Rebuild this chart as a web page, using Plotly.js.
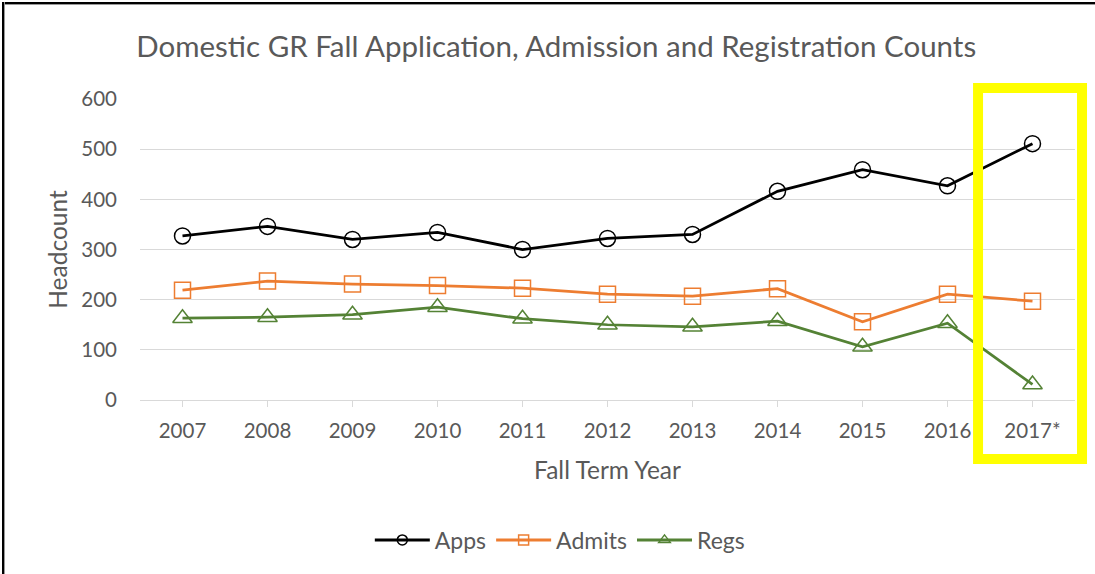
<!DOCTYPE html>
<html>
<head>
<meta charset="utf-8">
<script src="https://cdn.plot.ly/plotly-3.0.1.min.js"></script>
<style>
  html, body { margin: 0; padding: 0; background: #fff; }
  #chart { position: absolute; left: 0; top: 0; width: 1095px; height: 574px; }
  #bt { position: absolute; left: 2px; top: 2px; width: 1093px; height: 2px; background: #000; border-bottom: 1px solid #999; }
  #bl { position: absolute; left: 2px; top: 2px; width: 2px; height: 572px; background: #000; border-right: 1px solid #999; }
</style>
</head>
<body>
<div id="chart"></div>
<div id="bt"></div>
<div id="bl"></div>
<script>
const years = ["2007","2008","2009","2010","2011","2012","2013","2014","2015","2016","2017*"];
const apps   = [327, 346, 320, 334, 300, 322, 330, 416, 459, 427, 511];
const admits = [219, 237, 231, 228, 223, 211, 207, 222, 156, 211, 197];
const regs   = [163, 165, 170, 185, 162, 150, 146, 157, 106, 153, 31];

const seriesNames = ["Apps", "Admits", "Regs"];
const seriesData = [apps, admits, regs];
const colors = ["#000000", "#ED7D31", "#548235"];
const symbols = ["circle-open", "square-open", "triangle-up-open"];
const markerSizes = [16, 16, 17];

const FONT = "Lato, 'Open Sans', sans-serif";
const GREY = "#595959";

const traces = [];
seriesNames.forEach((nm, i) => {
  traces.push({ name: nm, x: years, y: seriesData[i], type: "scatter", mode: "lines+markers",
    showlegend: false, legendgroup: nm,
    line: { color: colors[i], width: 2.75 },
    marker: { symbol: symbols[i], size: markerSizes[i], color: colors[i], line: { width: 1.5, color: colors[i] } } });
});
// legend-only entries (smaller markers, as in the reference legend)
seriesNames.forEach((nm, i) => {
  traces.push({ name: nm, x: [null], y: [null], type: "scatter", mode: "lines+markers",
    showlegend: true, legendgroup: nm, hoverinfo: "skip",
    line: { color: colors[i], width: 3 },
    marker: { symbol: symbols[i], size: 10, color: colors[i], line: { width: 1.5, color: colors[i] } } });
});

const layout = {
  width: 1095, height: 574,
  margin: { l: 140, r: 20, t: 99, b: 174 },
  paper_bgcolor: "#ffffff", plot_bgcolor: "#ffffff",
  font: { family: FONT, color: GREY, size: 20 },
  title: { text: "Domestic GR Fall Application, Admission and Registration Counts",
    x: 0.508, xanchor: "center", y: 0.918, yanchor: "middle", yref: "container",
    font: { family: FONT, size: 29.5, color: GREY } },
  xaxis: {
    type: "category", range: [-0.5, 10.5],
    showgrid: false, zeroline: false,
    showline: true, linecolor: "#d9d9d9", linewidth: 1,
    ticks: "outside", ticklen: 6, tickcolor: "#d9d9d9", tickwidth: 1,
    ticklabelstandoff: 6,
    tickfont: { family: FONT, size: 20.5, color: GREY },
    title: { text: "Fall Term Year", standoff: 21, font: { family: FONT, size: 24.5, color: GREY } }
  },
  yaxis: {
    range: [0, 600], dtick: 100, tick0: 0,
    showgrid: true, gridcolor: "#d9d9d9", gridwidth: 1,
    zeroline: false, showline: false, ticks: "",
    ticklabelstandoff: 22,
    tickfont: { family: FONT, size: 20.5, color: GREY },
    title: { text: "Headcount", standoff: 6, font: { family: FONT, size: 24.5, color: GREY } }
  },
  legend: { orientation: "h", x: 0.449, xanchor: "center", y: -0.465, yanchor: "middle",
    font: { family: FONT, size: 23, color: GREY }, itemwidth: 55,
    traceorder: "normal" },
  showlegend: true,
  shapes: [
    { type: "rect", xref: "paper", yref: "paper", x0: 0.8963, x1: 1.0075, y0: -0.1960, y1: 1.0365,
      line: { color: "#FFFF00", width: 10 }, fillcolor: "rgba(0,0,0,0)", layer: "above" }
  ]
};

Plotly.newPlot("chart", traces, layout, { displayModeBar: false, staticPlot: true });
</script>
</body>
</html>
